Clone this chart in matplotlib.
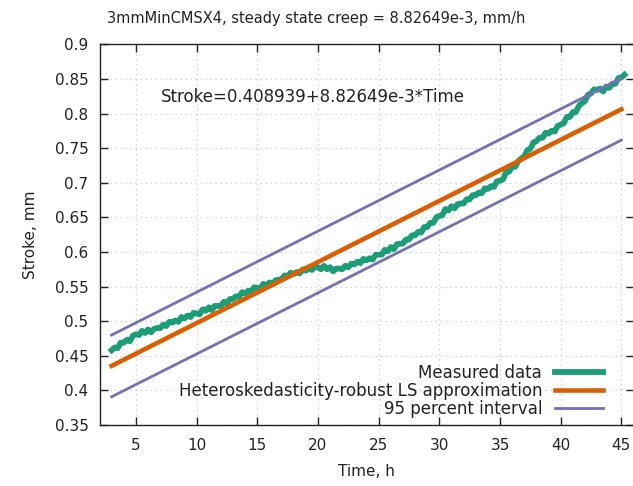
import numpy as np
import matplotlib
matplotlib.use("Agg")
import matplotlib.pyplot as plt

# ---- data ----
t_start = 3.0
t_step = 0.25
stroke = [
    .458, .462, .461, .469, .469, .473, .471, .479, .481, .480,
    .486, .483, .488, .484, .489, .490, .490, .495, .493, .499,
    .498, .501, .499, .506, .504, .508, .506, .512, .511, .510,
    .517, .515, .520, .516, .522, .522, .522, .528, .526, .532,
    .532, .536, .535, .542, .540, .544, .543, .549, .548, .547,
    .554, .551, .556, .553, .559, .560, .560, .566, .565, .570,
    .568, .571, .569, .575, .573, .576, .574, .579, .578, .575,
    .580, .575, .578, .572, .576, .576, .575, .580, .578, .583,
    .582, .586, .584, .590, .588, .591, .589, .596, .596, .596,
    .603, .601, .607, .604, .611, .612, .612, .618, .618, .624,
    .624, .629, .628, .636, .636, .642, .642, .650, .652, .653,
    .662, .660, .666, .663, .669, .670, .670, .676, .676, .682,
    .682, .686, .685, .692, .691, .695, .694, .702, .703, .705,
    .715, .716, .724, .723, .731, .735, .738, .747, .749, .758,
    .760, .765, .765, .772, .771, .775, .774, .782, .784, .786,
    .795, .795, .802, .802, .811, .815, .818, .827, .829, .835,
    .834, .836, .832, .839, .837, .843, .843, .851, .852, .856,
]
time = t_start + t_step * np.arange(len(stroke))

intercept = 0.408939
slope = 8.82649e-3
interval_half = 0.0446
fit_t = [3.0, 45.0]

x_ticks = [5, 10, 15, 20, 25, 30, 35, 40, 45]
y_ticks = [0.35, 0.4, 0.45, 0.5, 0.55, 0.6, 0.65, 0.7, 0.75, 0.8, 0.85, 0.9]
y_ticklabels = ["0.35", "0.4", "0.45", "0.5", "0.55", "0.6", "0.65", "0.7",
                "0.75", "0.8", "0.85", "0.9"]

title = "3mmMinCMSX4, steady state creep = 8.82649e-3, mm/h"
annot = "Stroke=0.408939+8.82649e-3*Time"
labels = ["Measured data", "Heteroskedasticity-robust LS approximation",
          "95 percent interval"]

c_green = "#1b9e77"
c_orange = "#d95f02"
c_purple = "#7570b3"

plt.rcParams['font.family'] = ['DejaVu Sans']
FS = 11
FS_BIG = 12
FS_TITLE = 10.5

fig = plt.figure(figsize=(6.33, 4.86), dpi=100)
W, H = 633, 486
ax_l, ax_r, ax_t, ax_b = 99.5, 633.5, 44.3, 425.0
ax = fig.add_axes([ax_l / W, 1 - ax_b / H, (ax_r - ax_l) / W, (ax_b - ax_t) / H])

fit_t = np.array(fit_t)
fit_v = intercept + slope * fit_t

ax.plot(time, stroke, color=c_green, lw=4.2, solid_joinstyle='round',
        label=labels[0], zorder=3)
ax.plot(fit_t, fit_v, color=c_orange, lw=3.3, label=labels[1], zorder=4)
ax.plot(fit_t, fit_v + interval_half, color=c_purple, lw=2.0, label=labels[2], zorder=4)
ax.plot(fit_t, fit_v - interval_half, color=c_purple, lw=2.0, zorder=4)

ax.set_xlim(2, 46)
ax.set_ylim(0.35, 0.9)
ax.set_xticks(x_ticks)
ax.set_yticks(y_ticks)
ax.set_yticklabels(y_ticklabels)
ax.tick_params(direction='in', length=6, width=1, top=True, right=True,
               labelsize=FS, pad=8, colors='#222222', labelcolor='#222222')
ax.tick_params(axis='x', pad=9)
ax.grid(True, color='#c8c8c8', linestyle=(0, (1, 3)), linewidth=0.9)
ax.set_axisbelow(True)
for s in ax.spines.values():
    s.set_color('#222222')
    s.set_linewidth(1.0)

ax.set_xlabel("Time, h", fontsize=FS, labelpad=8, color='#222222')
ax.set_ylabel("Stroke, mm", fontsize=FS, labelpad=12, color='#222222')

fig.text(316 / W, 1 - 18 / H, title, ha='center', va='center', fontsize=FS_TITLE,
         color='#222222')
fig.text(161 / W, 1 - 97 / H, annot, fontsize=FS_BIG, va='center', ha='left',
         color='#222222')

leg = ax.legend(loc='center right', bbox_to_anchor=((603 - ax_l) / (ax_r - ax_l),
                (ax_b - 391) / (ax_b - ax_t)),
                markerfirst=False, frameon=False, fontsize=FS_BIG,
                handlelength=2.9, handletextpad=0.75, labelspacing=0.0,
                borderpad=0, borderaxespad=0)
for t in leg.get_texts():
    t.set_color('#222222')

fig.savefig("out.png", dpi=100)
